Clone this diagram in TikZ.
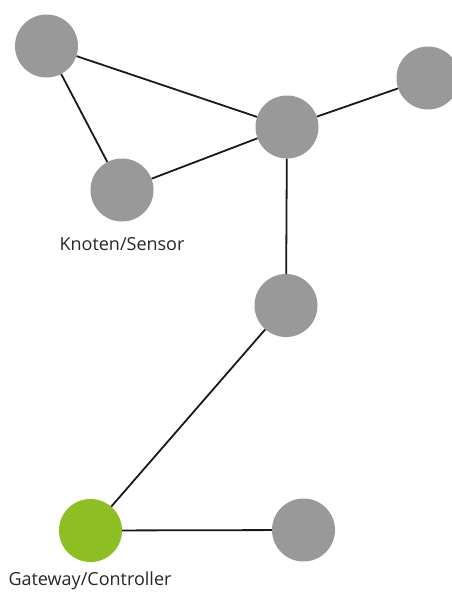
\documentclass[tikz,border=0pt]{standalone}
\usepackage{fontspec}
\setmainfont{Open Sans}
\usepackage{tikz}
\definecolor{knotgray}{RGB}{153,153,153}
\definecolor{gwgreen}{RGB}{141,190,34}
\tikzstyle{knot} = [circle, fill=knotgray, minimum size=63pt, inner sep=0pt]
\tikzstyle{gateway} = [circle, fill=gwgreen, minimum size=63pt, inner sep=0pt]
\tikzstyle{link} = [line width=1.8pt, black!90]
\tikzstyle{caption} = [font=\fontsize{18}{21}\selectfont, text=black!85]

\begin{document}
\begin{tikzpicture}[x=1pt,y=-1pt]
\useasboundingbox (0,0) rectangle (451,592);
% Nodes
\node[knot] at (46.5,46) (k1){};
\node[knot] at (122,190) (k2){};
\node[knot] at (287,127) (k3){};
\node[knot] at (428,78) (k4){};
\node[knot] at (286,305.5) (k5){};
\node[gateway] at (90.5,530.5) (gw){};
\node[knot] at (303.5,530) (k6){};
% Links
\draw[link] (k1) -- (k3);
\draw[link] (k1) -- (k2);
\draw[link] (k2) -- (k3);
\draw[link] (k3) -- (k4);
\draw[link] (k3) -- (k5);
\draw[link] (k5) -- (gw);
\draw[link] (gw) -- (k6);
% Labels
\node[caption] at (122,244) (lbl1){Knoten/Sensor};
\node[caption] at (90,581) (lbl2){Gateway/Controller};
\end{tikzpicture}
\end{document}
